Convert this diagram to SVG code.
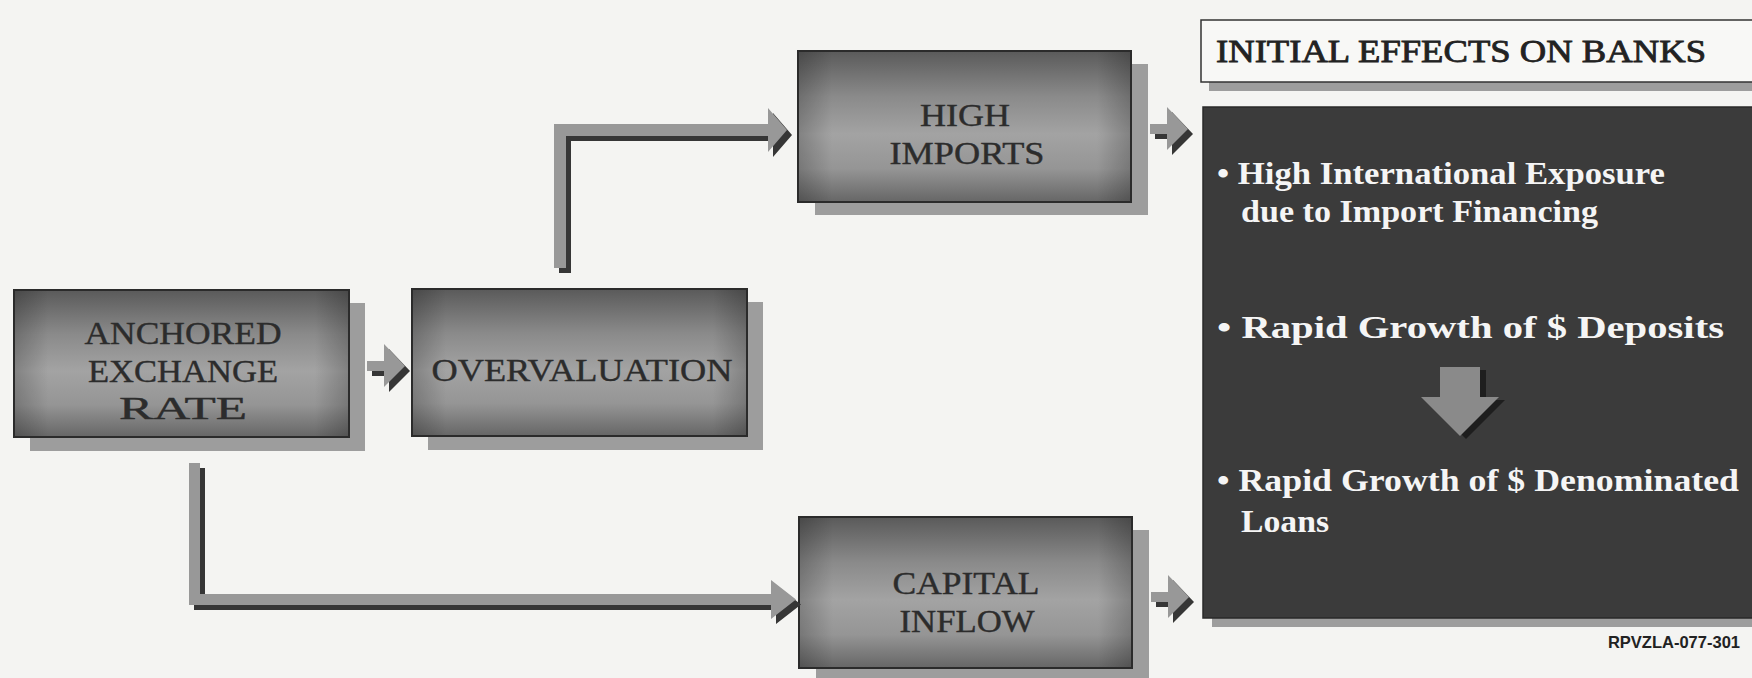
<svg xmlns="http://www.w3.org/2000/svg" width="1752" height="678" viewBox="0 0 1752 678">
<defs>
<linearGradient id="boxV" x1="0" y1="0" x2="0" y2="1">
<stop offset="0" stop-color="#5a5a5a"/>
<stop offset="0.3" stop-color="#8a8a8a"/>
<stop offset="0.55" stop-color="#a3a3a3"/>
<stop offset="0.78" stop-color="#959595"/>
<stop offset="1" stop-color="#666"/>
</linearGradient>
<linearGradient id="boxH" x1="0" y1="0" x2="1" y2="0">
<stop offset="0" stop-color="#000" stop-opacity="0.2"/>
<stop offset="0.1" stop-color="#000" stop-opacity="0"/>
<stop offset="0.9" stop-color="#000" stop-opacity="0"/>
<stop offset="1" stop-color="#000" stop-opacity="0.2"/>
</linearGradient>
<path id="smallArrow" d="M0,-5 H17 V-22 L38,0 L17,21 V5 H0 Z"/>
</defs>
<style>
.shadow{fill:#9d9d9d}
.box{fill:url(#boxV);stroke:#2b2b2b;stroke-width:2}
.boxedge{fill:url(#boxH)}
.lbl{font-family:"Liberation Serif",serif;font-size:32px;fill:#2c2c2c;stroke:#2c2c2c;stroke-width:0.4;text-anchor:middle}
.ptxt{font-family:"Liberation Serif",serif;font-size:32px;font-weight:bold;fill:#f5f5f5}
.arrL{fill:#989898}
.arrD{fill:#363636}
</style>
<rect width="1752" height="678" fill="#f4f4f2"/>

<g id="anchored">
<rect class="shadow" x="30" y="303" width="335" height="148"/>
<rect class="box" x="14" y="290" width="335" height="147"/>
<rect class="boxedge" x="15" y="291" width="333" height="145"/>
<text class="lbl" x="183" y="344" textLength="197" lengthAdjust="spacingAndGlyphs">ANCHORED</text>
<text class="lbl" x="183" y="382" textLength="190" lengthAdjust="spacingAndGlyphs">EXCHANGE</text>
<text class="lbl" x="183" y="419" textLength="128" lengthAdjust="spacingAndGlyphs">RATE</text>
</g>

<g id="overvaluation">
<rect class="shadow" x="428" y="302" width="335" height="148"/>
<rect class="box" x="412" y="289" width="335" height="147"/>
<rect class="boxedge" x="413" y="290" width="333" height="145"/>
<text class="lbl" x="582" y="381" textLength="301" lengthAdjust="spacingAndGlyphs">OVERVALUATION</text>
</g>

<g id="high-imports">
<rect class="shadow" x="815" y="64" width="333" height="151"/>
<rect class="box" x="798" y="51" width="333" height="151"/>
<rect class="boxedge" x="799" y="52" width="331" height="149"/>
<text class="lbl" x="965" y="126" textLength="90" lengthAdjust="spacingAndGlyphs">HIGH</text>
<text class="lbl" x="967" y="164" textLength="155" lengthAdjust="spacingAndGlyphs">IMPORTS</text>
</g>

<g id="capital-inflow">
<rect class="shadow" x="816" y="530" width="333" height="151"/>
<rect class="box" x="799" y="517" width="333" height="151"/>
<rect class="boxedge" x="800" y="518" width="331" height="149"/>
<text class="lbl" x="966" y="594" textLength="147" lengthAdjust="spacingAndGlyphs">CAPITAL</text>
<text class="lbl" x="967" y="632" textLength="135" lengthAdjust="spacingAndGlyphs">INFLOW</text>
</g>

<g id="header">
<rect class="shadow" x="1209" y="29" width="560" height="62"/>
<rect x="1201" y="20" width="560" height="62" fill="#f8f8f6" stroke="#333" stroke-width="1.5"/>
<text x="1216" y="62" font-family="Liberation Serif, serif" font-size="31" fill="#222" stroke="#222" stroke-width="0.8" textLength="490" lengthAdjust="spacingAndGlyphs">INITIAL EFFECTS ON BANKS</text>
</g>

<g id="effects-panel">
<rect class="shadow" x="1212" y="116" width="560" height="511"/>
<rect x="1203" y="107" width="560" height="511" fill="#3b3b3b" stroke="#2a2a2a" stroke-width="1.5"/>
<text class="ptxt" x="1217" y="184" textLength="448" lengthAdjust="spacingAndGlyphs">• High International Exposure</text>
<text class="ptxt" x="1241" y="222" textLength="357" lengthAdjust="spacingAndGlyphs">due to Import Financing</text>
<text class="ptxt" x="1217" y="338" textLength="507" lengthAdjust="spacingAndGlyphs">• Rapid Growth of $ Deposits</text>
<text class="ptxt" x="1217" y="491" textLength="522" lengthAdjust="spacingAndGlyphs">• Rapid Growth of $ Denominated</text>
<text class="ptxt" x="1241" y="532" textLength="88" lengthAdjust="spacingAndGlyphs">Loans</text>
</g>

<g id="code">
<text x="1740" y="648" font-family="Liberation Sans, Arial, sans-serif" font-size="16.5" font-weight="bold" fill="#222" text-anchor="end">RPVZLA-077-301</text>
</g>

<g id="connectors">
<g id="elbow-to-imports">
<path class="arrD" transform="translate(5,5)" d="M554,268 V124 H768 V108 L787,130 L768,152 V136 H566 V268 Z"/>
<path class="arrL" d="M554,268 V124 H768 V108 L787,130 L768,152 V136 H566 V268 Z"/>
</g>
<g id="elbow-to-capital">
<path class="arrD" transform="translate(5,5)" d="M189,463 H200 V594 H771 V580 L796,599.5 L771,619 V605 H189 Z"/>
<path class="arrL" d="M189,463 H200 V594 H771 V580 L796,599.5 L771,619 V605 H189 Z"/>
</g>
<g id="arrow-anchored-over">
<use href="#smallArrow" class="arrD" transform="translate(372,371)"/>
<use href="#smallArrow" class="arrL" transform="translate(367,366)"/>
</g>
<g id="arrow-imports-panel">
<use href="#smallArrow" class="arrD" transform="translate(1155,134)"/>
<use href="#smallArrow" class="arrL" transform="translate(1150,129)"/>
</g>
<g id="arrow-capital-panel">
<use href="#smallArrow" class="arrD" transform="translate(1156,602)"/>
<use href="#smallArrow" class="arrL" transform="translate(1151,597)"/>
</g>
<g id="arrow-down">
<path fill="#1e1e1e" transform="translate(6,3)" d="M1440,367 H1480 V397 H1499 L1460,436 L1421,397 H1440 Z"/>
<path fill="#8a8a8a" d="M1440,367 H1480 V397 H1499 L1460,436 L1421,397 H1440 Z"/>
</g>
</g>
</svg>
